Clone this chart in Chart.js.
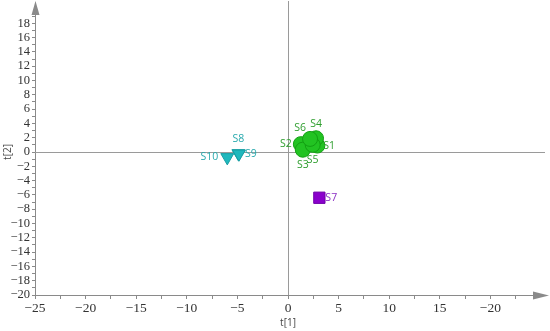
<!DOCTYPE html>
<html>
<head>
<meta charset="utf-8">
<script src="https://cdn.jsdelivr.net/npm/chart.js@4"></script>
<style>
  html, body { margin: 0; padding: 0; background: #fff; }
  #wrap { width: 550px; height: 331px; }
</style>
</head>
<body>
<div id="wrap"><canvas id="grafico" width="550" height="331"></canvas></div>
<script>
// muestras y scores t[1], t[2]
const verdeNombres = ["S1", "S2", "S3", "S4", "S5", "S6"];
const verdeT1 = [2.9, 1.27, 1.46, 2.77, 2.44, 2.18];
const verdeT2 = [0.9, 1.1, 0.32, 1.92, 1.0, 1.83];

const cianNombres = ["S8", "S9", "S10"];
const cianT1 = [-4.9, -4.85, -6.0];
const cianT2 = [-0.2, -0.25, -0.75];

const moradoNombres = ["S7"];
const moradoT1 = [3.1];
const moradoT2 = [-6.4];

// etiquetas de los ticks del eje x (la ultima sale asi en el original)
const xTicks = [-25, -20, -15, -10, -5, 0, 5, 10, 15, 20];
const xTickLabels = ["\u221225", "\u221220", "\u221215", "\u221210", "\u22125", "0", "5", "10", "15", "\u221220"];

const LADO_Y = 35;
const ALTO_X = 36;
const gris = "#8a8a8a";

function puntos(xs, ys) {
  return xs.map((x, i) => ({ x: x, y: ys[i] }));
}

// lado de cada etiqueta respecto al punto
const ladosVerde = ["right", "left", "below", "above", "below", "aboveleft"];
const ladosCian = ["above", "right", "left"];
const ladosMorado = ["right"];

const etiquetasPlugin = {
  id: "etiquetas",
  beforeDatasetsDraw(chart) {
    const ctx = chart.ctx;
    const x = chart.scales.x;
    const y = chart.scales.y;
    const a = chart.chartArea;
    const x0 = x.getPixelForValue(0);
    const y0 = y.getPixelForValue(0);
    ctx.save();
    ctx.strokeStyle = "#9a9a9a";
    ctx.lineWidth = 1;
    ctx.beginPath();
    ctx.moveTo(Math.round(x0) + 0.5, 1);
    ctx.lineTo(Math.round(x0) + 0.5, a.bottom);
    ctx.moveTo(a.left, Math.round(y0) + 0.5);
    ctx.lineTo(545, Math.round(y0) + 0.5);
    ctx.stroke();
    ctx.restore();
  },
  afterDraw(chart) {
    const ctx = chart.ctx;
    const a = chart.chartArea;
    ctx.save();
    // flechas de los ejes
    ctx.fillStyle = gris;
    ctx.beginPath();
    ctx.moveTo(a.left + 0.5, 1);
    ctx.lineTo(a.left - 3.5, 15);
    ctx.lineTo(a.left + 4.5, 15);
    ctx.closePath();
    ctx.fill();
    ctx.beginPath();
    ctx.moveTo(549, a.bottom + 0.5);
    ctx.lineTo(533, a.bottom - 3.5);
    ctx.lineTo(533, a.bottom + 4.5);
    ctx.closePath();
    ctx.fill();
    ctx.strokeStyle = gris;
    ctx.beginPath();
    ctx.moveTo(a.left + 0.5, 10);
    ctx.lineTo(a.left + 0.5, a.top);
    ctx.moveTo(a.right, a.bottom + 0.5);
    ctx.lineTo(540, a.bottom + 0.5);
    ctx.stroke();

    // titulos de ejes
    ctx.fillStyle = "#444";
    ctx.font = "10px 'Open Sans'";
    ctx.textAlign = "center";
    ctx.textBaseline = "middle";
    ctx.fillText("t[1]", chart.scales.x.getPixelForValue(0), 323);
    ctx.translate(8, chart.scales.y.getPixelForValue(0));
    ctx.rotate(-Math.PI / 2);
    ctx.fillText("t[2]", 0, 0);
    ctx.restore();

    // nombres de las muestras
    ctx.save();
    ctx.font = "10.5px 'Open Sans'";
    ctx.textBaseline = "middle";
    chart.data.datasets.forEach((ds, i) => {
      const meta = chart.getDatasetMeta(i);
      ctx.fillStyle = ds.colorTexto;
      meta.data.forEach((el, j) => {
        const lado = ds.lados[j];
        let px = el.x, py = el.y;
        if (lado === "right") { ctx.textAlign = "left"; px += 6; }
        if (lado === "left") { ctx.textAlign = "right"; px -= 9; }
        if (lado === "above") { ctx.textAlign = "center"; py -= 14; }
        if (lado === "below") { ctx.textAlign = "center"; py += 15; }
        if (lado === "aboveleft") { ctx.textAlign = "center"; px -= 10; py -= 11; }
        ctx.fillText(ds.nombres[j], px, py);
      });
    });
    ctx.restore();
  }
};

new Chart("grafico", {
  type: "scatter",
  data: {
    datasets: [
      {
        data: puntos(cianT1, cianT2),
        nombres: cianNombres,
        lados: ladosCian,
        colorTexto: "#27a9ad",
        pointStyle: "triangle",
        rotation: 180,
        radius: 7.5,
        backgroundColor: "#1fb8bd",
        borderColor: "#169ea3",
        borderWidth: 1
      },
      {
        data: puntos(moradoT1, moradoT2),
        nombres: moradoNombres,
        lados: ladosMorado,
        colorTexto: "#8a2fc4",
        pointStyle: "rect",
        radius: 8,
        backgroundColor: "#8a00cc",
        borderColor: "#7000aa",
        borderWidth: 1
      },
      {
        data: puntos(verdeT1, verdeT2),
        nombres: verdeNombres,
        lados: ladosVerde,
        colorTexto: "#2e9e2e",
        pointStyle: "circle",
        radius: 7.5,
        backgroundColor: "#22c322",
        borderColor: "#12a012",
        borderWidth: 1
      }
    ]
  },
  options: {
    responsive: false,
    animation: false,
    devicePixelRatio: 1,
    layout: { padding: { top: 3, right: 1, left: 0, bottom: 0 } },
    plugins: {
      legend: { display: false },
      tooltip: { enabled: false }
    },
    scales: {
      x: {
        type: "linear",
        min: -25,
        max: 25,
        afterFit(scale) {
          scale.height = ALTO_X;
          scale.paddingLeft = 0;
          scale.paddingRight = 0;
        },
        afterBuildTicks(scale) {
          const t = [];
          for (let v = -25; v <= 22.5; v += 2.5) t.push({ value: v });
          scale.ticks = t;
        },
        ticks: {
          autoSkip: false,
          maxRotation: 0,
          padding: 1,
          color: "#333",
          font: { family: "'Liberation Serif', serif", size: 13.5 },
          callback(v) {
            const k = xTicks.indexOf(v);
            return k >= 0 ? xTickLabels[k] : "";
          }
        },
        grid: { drawOnChartArea: false, drawTicks: true, tickLength: 4, color: gris },
        border: { color: gris, width: 1 }
      },
      y: {
        type: "linear",
        min: -20,
        max: 20,
        afterFit(scale) {
          scale.width = LADO_Y;
          scale.paddingTop = 0;
          scale.paddingBottom = 0;
        },
        afterBuildTicks(scale) {
          const t = [];
          for (let v = -20; v <= 19; v += 1) t.push({ value: v });
          scale.ticks = t;
        },
        ticks: {
          autoSkip: false,
          padding: 2,
          color: "#333",
          font: { family: "'Liberation Serif', serif", size: 12.5 },
          callback(v) {
            if (v % 2 !== 0) return "";
            return v < 0 ? "\u2212" + Math.abs(v) : String(v);
          }
        },
        grid: { drawOnChartArea: false, drawTicks: true, tickLength: 3, color: gris },
        border: { color: gris, width: 1 }
      }
    }
  },
  plugins: [etiquetasPlugin]
});
</script>
</body>
</html>
